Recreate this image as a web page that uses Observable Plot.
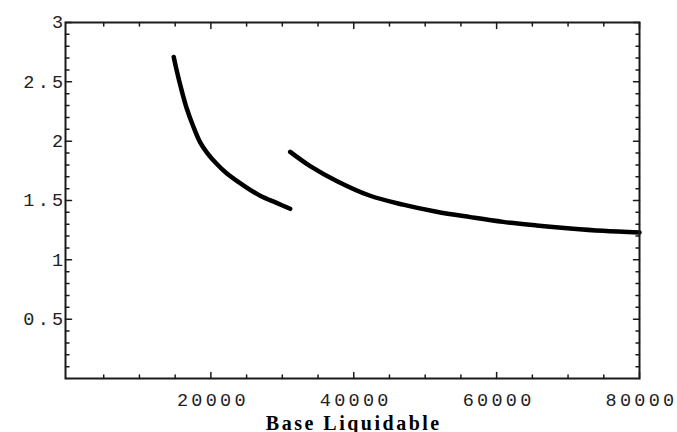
<!DOCTYPE html>
<html><head><meta charset="utf-8">
<script src="https://cdn.jsdelivr.net/npm/d3@7"></script>
<script src="https://cdn.jsdelivr.net/npm/@observablehq/plot@0.6"></script>
<style>
body{margin:0;background:#fff;}
#chart svg{display:block;}
g[aria-label$="tick label"] text{letter-spacing:3.3px;}
g[aria-label="text"] text{letter-spacing:2.5px;}
</style></head><body><div id="chart"></div>
<script>
const xLabel = "Base Liquidable";
const xMajorTicks = [20000, 40000, 60000, 80000];
const xMinorTicks = [5000, 10000, 15000, 25000, 30000, 35000, 45000, 50000, 55000, 65000, 70000, 75000];
const yMajorTicks = [0.5, 1, 1.5, 2, 2.5, 3];
const yMinorTicks = [0.1, 0.2, 0.3, 0.4, 0.6, 0.7, 0.8, 0.9, 1.1, 1.2, 1.3, 1.4, 1.6, 1.7, 1.8, 1.9, 2.1, 2.2, 2.3, 2.4, 2.6, 2.7, 2.8, 2.9];

const curve1X = [14800, 15200, 15900, 16600, 17500, 18500, 19500, 20800, 22200, 24500, 26900, 29200, 31100];
const curve1Y = [2.71, 2.60, 2.43, 2.28, 2.13, 1.99, 1.90, 1.81, 1.73, 1.63, 1.54, 1.48, 1.43];
const curve2X = [31100, 33900, 37600, 42300, 46900, 51600, 56300, 60900, 65600, 70300, 74900, 80000];
const curve2Y = [1.91, 1.79, 1.665, 1.54, 1.465, 1.405, 1.36, 1.32, 1.29, 1.265, 1.245, 1.23];

const rows = [
  ...curve1X.map((x, i) => ({x, y: curve1Y[i], seg: "a"})),
  ...curve2X.map((x, i) => ({x, y: curve2Y[i], seg: "b"}))
];

const ink = "#1a1a1a";
const tickFont = {fontFamily: "Liberation Mono", fontSize: 18.5, fill: "#222"};
const tickShape = {draw(ctx, l) { ctx.moveTo(0, 0); ctx.lineTo(0, -l); }};

// inward frame ticks: rotate 0 = up (from bottom), 180 = down (from top), 90 = right (from left), -90 = left (from right)
function frameTicks(values, dim, frameAnchor, rotate, length) {
  const opts = {frameAnchor, rotate, length, anchor: "start", shape: tickShape, stroke: ink, strokeWidth: 1.5};
  opts[dim] = d => d;
  return Plot.vector(values, opts);
}

const chart = Plot.plot({
  width: 677,
  height: 432,
  marginLeft: 65,
  marginRight: 38,
  marginTop: 22,
  marginBottom: 54,
  x: {domain: [-350, 80000]},
  y: {domain: [0, 3]},
  marks: [
    Plot.line(rows, {x: "x", y: "y", z: "seg", stroke: "black", strokeWidth: 4.5, curve: "catmull-rom"}),
    frameTicks(xMajorTicks, "x", "bottom", 0, 6),
    frameTicks(xMinorTicks, "x", "bottom", 0, 3.5),
    frameTicks(xMajorTicks, "x", "top", 180, 6),
    frameTicks(xMinorTicks, "x", "top", 180, 3.5),
    frameTicks(yMajorTicks, "y", "left", 90, 6),
    frameTicks(yMinorTicks, "y", "left", 90, 3.5),
    frameTicks(yMajorTicks, "y", "right", -90, 6),
    frameTicks(yMinorTicks, "y", "right", -90, 3.5),
    Plot.axisX(xMajorTicks, {anchor: "bottom", tickSize: 0, tickPadding: 14, dx: 2, tickFormat: d => String(d), label: null, ...tickFont}),
    Plot.axisY(yMajorTicks, {anchor: "left", tickSize: 0, tickPadding: 0, dx: 1, tickFormat: d => String(d), label: null, ...tickFont}),
    Plot.frame({stroke: ink, strokeWidth: 2}),
    Plot.text([xLabel], {text: d => d, frameAnchor: "bottom", dy: 51, dx: 1.25, lineAnchor: "bottom",
      fontFamily: "Liberation Serif", fontWeight: "bold", fontSize: 20, fill: "black"})
  ]
});
document.getElementById("chart").appendChild(chart);
</script></body></html>
